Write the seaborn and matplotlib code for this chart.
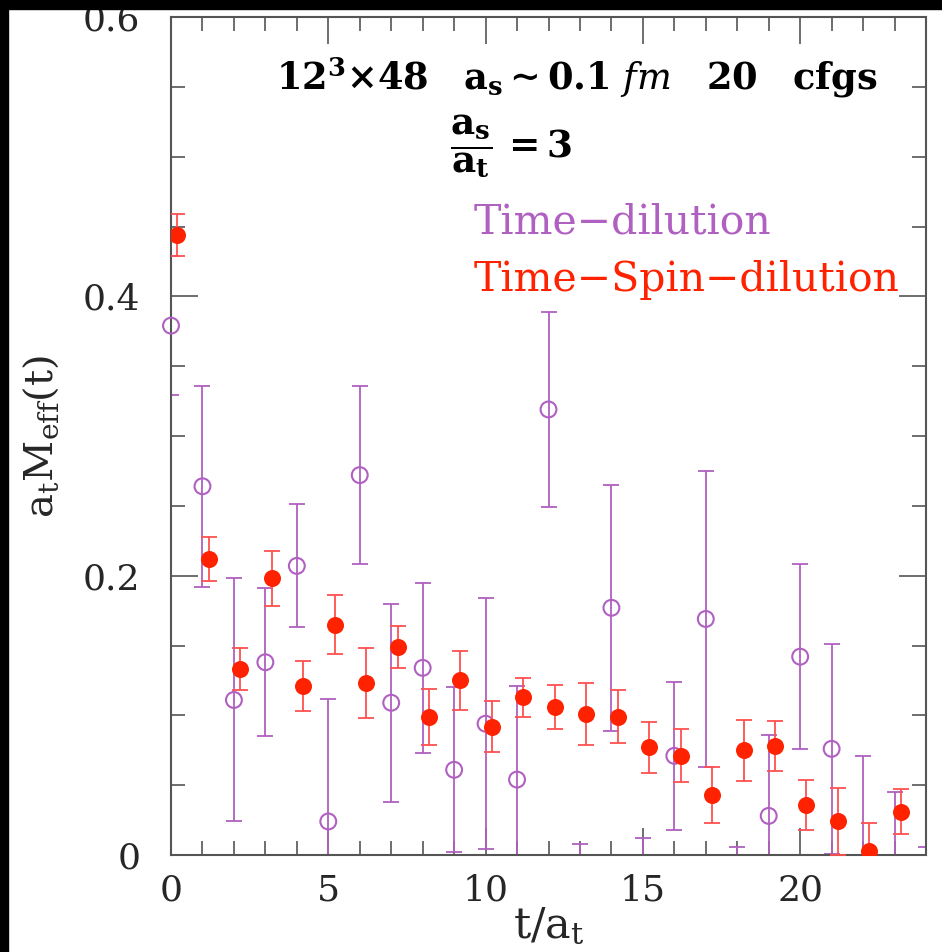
import numpy as np
import pandas as pd
import matplotlib
matplotlib.use("Agg")
import matplotlib.pyplot as plt
import seaborn as sns
from matplotlib.patches import Rectangle
from matplotlib.ticker import MultipleLocator, FixedLocator, FixedFormatter

# =========================
# DATA
# =========================

t_time = np.arange(0, 25)
meff_time = [0.379, 0.264, 0.111, 0.138, 0.207, 0.024, 0.272, 0.109, 0.134, 0.061,
             0.094, 0.054, 0.319, -0.050, 0.177, -0.040, 0.071, 0.169, -0.060, 0.028,
             0.142, 0.076, -0.010, -0.020, -0.050]
err_time = [0.050, 0.072, 0.087, 0.053, 0.044, 0.088, 0.064, 0.071, 0.061, 0.059,
            0.090, 0.067, 0.070, 0.058, 0.088, 0.052, 0.053, 0.106, 0.066, 0.058,
            0.066, 0.075, 0.081, 0.065, 0.056]

t_spin = np.arange(0, 24) + 0.2
meff_spin = [0.444, 0.212, 0.133, 0.198, 0.121, 0.165, 0.123, 0.149, 0.099, 0.125,
             0.092, 0.113, 0.106, 0.101, 0.099, 0.077, 0.071, 0.043, 0.075, 0.078,
             0.036, 0.024, 0.003, 0.031]
err_spin = [0.015, 0.016, 0.015, 0.020, 0.018, 0.021, 0.025, 0.015, 0.020, 0.021,
            0.018, 0.014, 0.016, 0.022, 0.019, 0.018, 0.019, 0.020, 0.022, 0.018,
            0.018, 0.024, 0.020, 0.016]

xticks = [0, 5, 10, 15, 20]
yticks = [0, 0.2, 0.4, 0.6]
ytick_labels = ["0", "0.2", "0.4", "0.6"]

df_time = pd.DataFrame({"t": t_time, "meff": meff_time, "err": err_time})
df_spin = pd.DataFrame({"t": t_spin, "meff": meff_spin, "err": err_spin})

purple = "#b060c0"
red = "#ff2200"
gray = "#555555"

# =========================
# STYLE
# =========================

sns.set_theme(style="ticks")
plt.rcParams["font.family"] = ["DejaVu Serif"]
plt.rcParams["mathtext.fontset"] = "dejavuserif"

fig = plt.figure(figsize=(9.42, 9.52), dpi=100)
fig.patch.set_facecolor("white")
ax = fig.add_axes([171 / 942, 1 - 855 / 952, 755 / 942, 838 / 952])

# clip box a bit wider on the left so the t=0 circle is drawn whole
clip_box = Rectangle((-0.02, 0), 1.02, 1, transform=ax.transAxes)

# =========================
# PLOT
# =========================

ax.errorbar(df_time["t"], df_time["meff"], yerr=df_time["err"], fmt="none",
            ecolor=purple, elinewidth=1.3, capsize=5.5, capthick=1.3, zorder=2)
sns.scatterplot(data=df_time, x="t", y="meff", ax=ax, marker="o", s=130,
                facecolor="none", edgecolor=purple, linewidth=1.5, zorder=3)
ax.collections[-1].set_clip_path(clip_box)

ax.errorbar(df_spin["t"], df_spin["meff"], yerr=df_spin["err"], fmt="none",
            ecolor="#ff5050", elinewidth=1.3, capsize=6, capthick=1.3, zorder=4)
sns.scatterplot(data=df_spin, x="t", y="meff", ax=ax, marker="o", s=150,
                color=red, edgecolor=red, linewidth=0, zorder=5)

ax.set_xlim(0, 24)
ax.set_ylim(0, 0.6)

ax.xaxis.set_major_locator(FixedLocator(xticks))
ax.xaxis.set_minor_locator(MultipleLocator(1))
ax.yaxis.set_major_locator(FixedLocator(yticks))
ax.yaxis.set_major_formatter(FixedFormatter(ytick_labels))
ax.yaxis.set_minor_locator(MultipleLocator(0.05))

ax.tick_params(which="both", direction="in", top=True, right=True, color=gray, width=1.2)
ax.tick_params(which="major", length=19.5, labelsize=26, pad=13)
ax.tick_params(which="minor", length=10)
ax.tick_params(axis="y", which="major", pad=22)

for s in ax.spines.values():
    s.set_color(gray)
    s.set_linewidth(1.5)

ax.set_xlabel(r"$\mathrm{t/a_t}$", fontsize=31, labelpad=-2)
ax.set_ylabel(r"$\mathrm{a_tM_{eff}(t)}$", fontsize=29, labelpad=16)

# =========================
# ANNOTATIONS
# =========================

ax.text(0.139, 0.913,
        r"$\mathbf{12^3{\times}48\ \ \ a_s\sim0.1}\ \mathit{fm}\ \ \ \mathbf{20\ \ \ cfgs}$",
        transform=ax.transAxes, fontsize=26.5, ha="left", va="baseline", color="black")
ax.text(0.369, 0.846, r"$\mathbf{\dfrac{a_s}{a_t}\,=3}$",
        transform=ax.transAxes, fontsize=27, ha="left", va="center", color="black")
ax.text(0.401, 0.755, "Time\u2212dilution", transform=ax.transAxes, fontsize=29.5,
        ha="left", va="center", color=purple)
ax.text(0.401, 0.686, "Time\u2212Spin\u2212dilution", transform=ax.transAxes, fontsize=29.5,
        ha="left", va="center", color=red)

# black border strips along top and left
fig.add_artist(Rectangle((0, 1 - 9 / 952), 1, 9 / 952, transform=fig.transFigure,
                         color="black", zorder=10))
fig.add_artist(Rectangle((0, 0), 8 / 942, 1, transform=fig.transFigure,
                         color="black", zorder=10))

fig.savefig("out.png", dpi=100, facecolor="white")
